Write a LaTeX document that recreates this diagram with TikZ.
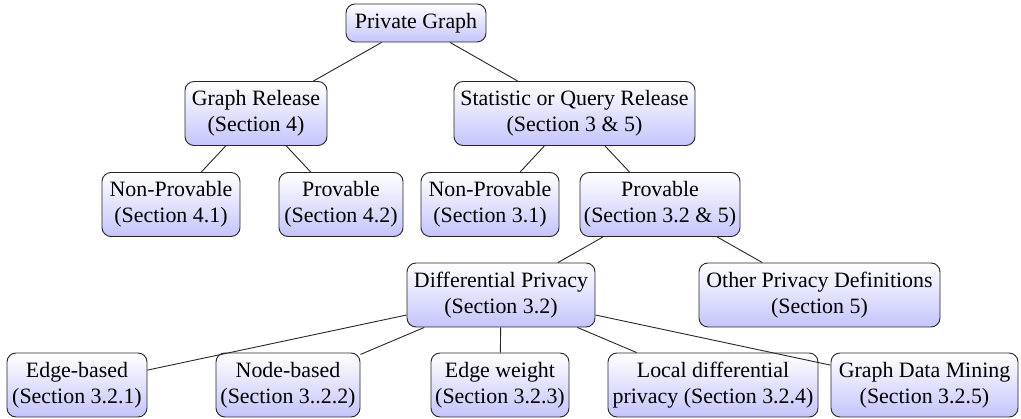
\documentclass[tikz,border=0pt]{standalone}
\usepackage{fontspec}
\newfontfamily\boxfont{Liberation Serif}
\begin{document}
\begin{tikzpicture}[x=1pt,y=-1pt,
  box/.style={draw=black!85, line width=0.9pt, rounded corners=9pt, top color=white,
    bottom color={rgb,255:red,196;green,196;blue,252}, align=center,
    inner sep=0pt, font=\boxfont\fontsize{21.9}{26}\selectfont},
  one/.style={box, minimum height=38pt},
  two/.style={box, minimum height=64pt},
  link/.style={line width=0.9pt, draw=black!85}]
\useasboundingbox (0,0) rectangle (1021,419);
\node[one, minimum width=140pt] (pg) at (416,23) {Private Graph};
\node[two, minimum width=142pt] (gr) at (256,113.5) {Graph Release\\(Section 4)};
\node[two, minimum width=241pt] (sq) at (574.5,113.5) {Statistic or Query Release\\(Section 3 \& 5)};
\node[two, minimum width=138pt] (np4) at (171,204.5) {Non-Provable\\(Section 4.1)};
\node[two, minimum width=124pt] (p4) at (341,204.5) {Provable\\(Section 4.2)};
\node[two, minimum width=138pt] (np3) at (490,204.5) {Non-Provable\\(Section 3.1)};
\node[two, minimum width=160pt] (p3) at (660,204.5) {Provable\\(Section 3.2 \& 5)};
\node[two, minimum width=188pt] (dp) at (501,295) {Differential Privacy\\(Section 3.2)};
\node[two, minimum width=241pt] (op) at (819.5,295) {Other Privacy Definitions\\(Section 5)};
\node[two, minimum width=140pt] (eb) at (77,385) {Edge-based\\(Section 3.2.1)};
\node[two, minimum width=144pt] (nb) at (288,385) {Node-based\\(Section 3..2.2)};
\node[two, minimum width=138pt] (ew) at (500,385) {Edge weight\\(Section 3.2.3)};
\node[two, minimum width=210pt] (ld) at (713,385) {Local differential\\privacy (Section 3.2.4)};
\node[two, minimum width=187pt] (gd) at (924.5,385) {Graph Data Mining\\(Section 3.2.5)};
\draw[link] (pg) -- (gr);
\draw[link] (pg) -- (sq);
\draw[link] (gr) -- (np4);
\draw[link] (gr) -- (p4);
\draw[link] (sq) -- (np3);
\draw[link] (sq) -- (p3);
\draw[link] (p3) -- (dp);
\draw[link] (p3) -- (op);
\draw[link] (dp) -- (eb);
\draw[link] (dp) -- (nb);
\draw[link] (dp) -- (ew);
\draw[link] (dp) -- (ld);
\draw[link] (dp) -- (gd);
\end{tikzpicture}
\end{document}
